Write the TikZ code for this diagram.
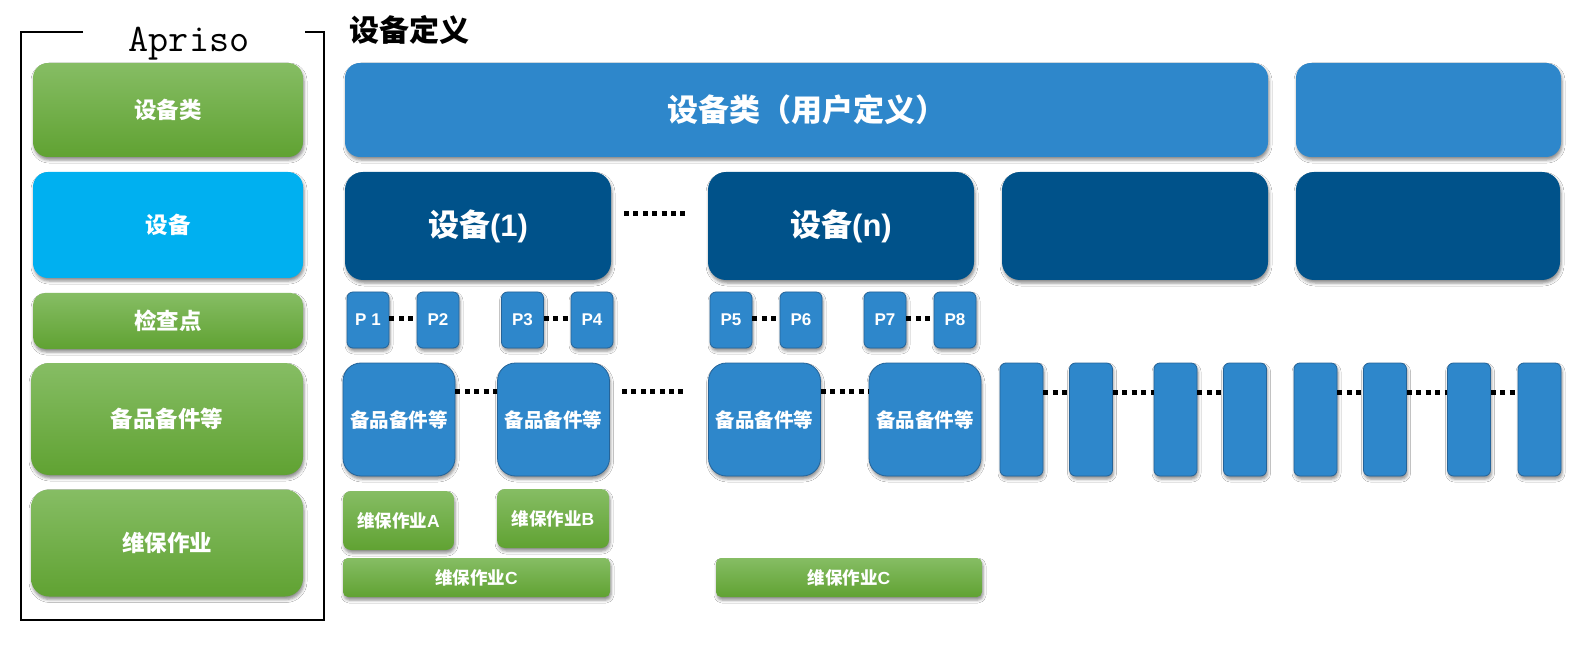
\documentclass[tikz,border=0pt]{standalone}
\usepackage{fontspec}
\setmainfont{Liberation Sans}
\newfontfamily\cjk{Noto Sans CJK SC}
\usetikzlibrary{shadows.blur}
\definecolor{blockblue}{HTML}{2E87CB}
\definecolor{deepblue}{HTML}{00528A}
\definecolor{edgeblue}{HTML}{24649A}
\definecolor{skyblue}{HTML}{00B0F0}
\definecolor{greentop}{HTML}{86BD64}
\definecolor{greenbot}{HTML}{60A232}
\newcommand\zh[1]{{\cjk\bfseries #1}}
\newcommand\fs[1]{\fontsize{#1}{#1}\selectfont}
\begin{document}
\begin{tikzpicture}[x=1pt,y=-1pt,
  shade box/.style={blur shadow={shadow xshift=1pt,shadow yshift=-3pt,shadow blur radius=3pt,shadow opacity=45}},
  card/.style={shade box,inner sep=0pt,text=white,font=\bfseries,align=center},
  greencard/.style={card,top color=greentop,bottom color=greenbot,draw=none},
  classcard/.style={card,fill=blockblue,rounded corners=15pt,minimum height=94pt},
  devcard/.style={card,fill=deepblue,rounded corners=18pt,minimum width=266pt,minimum height=108pt},
  pointcard/.style={card,fill=blockblue,draw=edgeblue,line width=0.8pt,rounded corners=6pt,minimum width=42pt,minimum height=56pt,font=\bfseries\fs{17}},
  partcard/.style={card,fill=blockblue,draw=edgeblue,line width=0.8pt,rounded corners=18pt,minimum width=112pt,minimum height=113pt,font=\bfseries\fs{19.5}},
  slimcard/.style={card,fill=blockblue,draw=edgeblue,line width=0.8pt,rounded corners=6pt,minimum width=43pt,minimum height=113pt},
  jobcard/.style={greencard,font=\bfseries\fs{17.5}},
  dotline/.style={line width=5pt,dash pattern=on 5pt off 4.4pt,black}]
\useasboundingbox (0,0) rectangle (1577,652);
\fill[white] (0,0) rectangle (1577,652);

% Apriso frame with its caption
\node[font=\ttfamily\fs{39},anchor=base] (apriso) at (189,52) {Apriso};
\draw[line width=2pt] (83,32) -- (21,32) -- (21,619.5) -- (323.5,619.5) -- (323.5,32) -- (305,32);

% left column: the Apriso objects
\node[greencard,rounded corners=15pt,minimum width=270pt,minimum height=94pt] (lcls) at (168,110) {\zh{\fs{22.5}设备类}};
\node[card,fill=skyblue,rounded corners=15pt,minimum width=270pt,minimum height=106pt] (ldev) at (168,225) {\zh{\fs{22.5}设备}};
\node[greencard,rounded corners=12pt,minimum width=270pt,minimum height=56pt] (lchk) at (168,321) {\zh{\fs{22.5}检查点}};
\node[greencard,rounded corners=18pt,minimum width=272pt,minimum height=112pt] (lpart) at (167,419) {\zh{\fs{22.5}备品备件等}};
\node[greencard,rounded corners=18pt,minimum width=272pt,minimum height=107pt] (lmnt) at (167,543) {\zh{\fs{22.5}维保作业}};

% heading
\node[font=\fs{30}] (title) at (409,30) {\zh{设备定义}};

% equipment classes
\node[classcard,minimum width=923pt] (cls) at (806.5,110) {\zh{\fs{31}设备类（用户定义）}};
\node[classcard,minimum width=265pt] (cls2) at (1428.5,110) {};

% equipment
\node[devcard] (d1) at (478,226) {\fs{31}\zh{设备}(1)};
\node[devcard] (dn) at (841,226) {\fs{31}\zh{设备}(n)};
\node[devcard] (d3) at (1135,226) {};
\node[devcard,minimum width=264pt] (d4) at (1428,226) {};
\coordinate (ddotA) at (624,214);
\coordinate (ddotB) at (689,214);
\draw[dotline] (ddotA) -- (ddotB);

% check points
\node[pointcard] (p1) at (368,320) {P 1};
\node[pointcard] (p2) at (438,320) {P2};
\node[pointcard] (p3) at (522.5,320) {P3};
\node[pointcard] (p4) at (592,320) {P4};
\node[pointcard] (p5) at (731,320) {P5};
\node[pointcard] (p6) at (801,320) {P6};
\node[pointcard] (p7) at (885,320) {P7};
\node[pointcard] (p8) at (955,320) {P8};
\foreach \a/\b in {p1/p2,p3/p4,p5/p6,p7/p8}
  \draw[dotline] (\a.east |- 0,319) -- (\b.west |- 0,319);

% spare parts
\node[partcard] (b1) at (399,419.5) {\zh{备品备件等}};
\node[partcard] (b2) at (553.5,419.5) {\zh{备品备件等}};
\node[partcard] (b3) at (764.5,419.5) {\zh{备品备件等}};
\node[partcard] (b4) at (925,419.5) {\zh{备品备件等}};
\draw[dotline] (b1.east |- 0,391) -- (b2.west |- 0,391);
\draw[dotline] (b3.east |- 0,391) -- (b4.west |- 0,391);
\coordinate (bdotA) at (622,391);
\coordinate (bdotB) at (687,391);
\draw[dotline] (bdotA) -- (bdotB);

\node[slimcard] (s1) at (1021.5,419.5) {};
\node[slimcard] (s2) at (1091,419.5) {};
\node[slimcard] (s3) at (1175.5,419.5) {};
\node[slimcard] (s4) at (1245,419.5) {};
\node[slimcard] (s5) at (1315.5,419.5) {};
\node[slimcard] (s6) at (1385,419.5) {};
\node[slimcard] (s7) at (1469,419.5) {};
\node[slimcard] (s8) at (1539.5,419.5) {};
\foreach \a/\b in {s1/s2,s2/s3,s3/s4,s5/s6,s6/s7,s7/s8}
  \draw[dotline] (\a.east |- 0,392) -- (\b.west |- 0,392);

% maintenance jobs
\node[jobcard,rounded corners=8pt,minimum width=111pt,minimum height=59pt] (ma) at (398.5,520.5) {\zh{维保作业}A};
\node[jobcard,rounded corners=8pt,minimum width=112pt,minimum height=59pt] (mb) at (553,518.5) {\zh{维保作业}B};
\node[jobcard,rounded corners=5pt,minimum width=267pt,minimum height=39pt] (mc1) at (476.5,577.5) {\zh{维保作业}C};
\node[jobcard,rounded corners=5pt,minimum width=266pt,minimum height=39pt] (mc2) at (849,577.5) {\zh{维保作业}C};
\end{tikzpicture}
\end{document}
